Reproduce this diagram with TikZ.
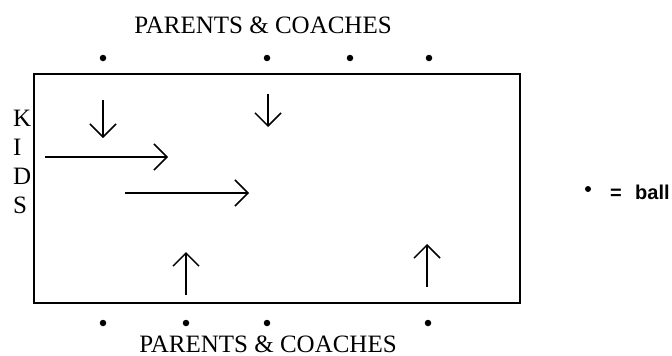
\documentclass[tikz,border=0pt]{standalone}
\usepackage{fontspec}
\setmainfont{Liberation Serif}
\newfontfamily\legendfont{Liberation Sans}
\usetikzlibrary{arrows.meta}
\tikzset{
  field/.style={line width=2pt},
  ball/.style={circle,fill=black,inner sep=0pt,minimum size=6.5pt},
  move/.style={line width=1.5pt,-{Straight Barb[length=13pt,width=26pt,line width=1.5pt]}},
  lbl/.style={font=\fontsize{25pt}{30pt}\selectfont,inner sep=0pt,anchor=base},
  kid/.style={font=\fontsize{25pt}{30pt}\selectfont,inner sep=0pt,anchor=base west},
  legend/.style={font=\legendfont\bfseries\fontsize{20pt}{24pt}\selectfont,inner sep=0pt,anchor=base west}
}
\begin{document}
\begin{tikzpicture}[x=1pt,y=-1pt]
\useasboundingbox (0,0) rectangle (672,356);
% field
\draw[field] (34,74) rectangle (520,303);
% labels
\node[lbl] (top) at (263,33) {PARENTS \& COACHES};
\node[lbl] (bottom) at (268,352) {PARENTS \& COACHES};
\node[kid] (k) at (13,126) {K};
\node[kid] (i) at (13,155) {I};
\node[kid] (d) at (13,184) {D};
\node[kid] (s) at (13,213) {S};
% balls
\node[ball] (t1) at (103,58) {};
\node[ball] (t2) at (267,58) {};
\node[ball] (t3) at (350,58) {};
\node[ball] (t4) at (429,58) {};
\node[ball] (b1) at (103,323) {};
\node[ball] (b2) at (186,323) {};
\node[ball] (b3) at (267,323) {};
\node[ball] (b4) at (428,323) {};
% arrows
\coordinate (da1) at (103,100); \coordinate (da2) at (103,138);
\coordinate (db1) at (268,94);  \coordinate (db2) at (268,127);
\coordinate (ra1) at (45,157);  \coordinate (ra2) at (168,157);
\coordinate (rb1) at (125,193); \coordinate (rb2) at (249,193);
\coordinate (ua1) at (186,295); \coordinate (ua2) at (186,252);
\coordinate (ub1) at (427,287); \coordinate (ub2) at (427,244);
\draw[move] (da1) -- (da2);
\draw[move] (db1) -- (db2);
\draw[move] (ra1) -- (ra2);
\draw[move] (rb1) -- (rb2);
\draw[move] (ua1) -- (ua2);
\draw[move] (ub1) -- (ub2);
% legend
\node[ball,minimum size=6pt] (lb) at (588,189) {};
\node[legend] (eq) at (610,199) {=};
\node[legend] (bl) at (635,199) {ball};
\end{tikzpicture}
\end{document}
